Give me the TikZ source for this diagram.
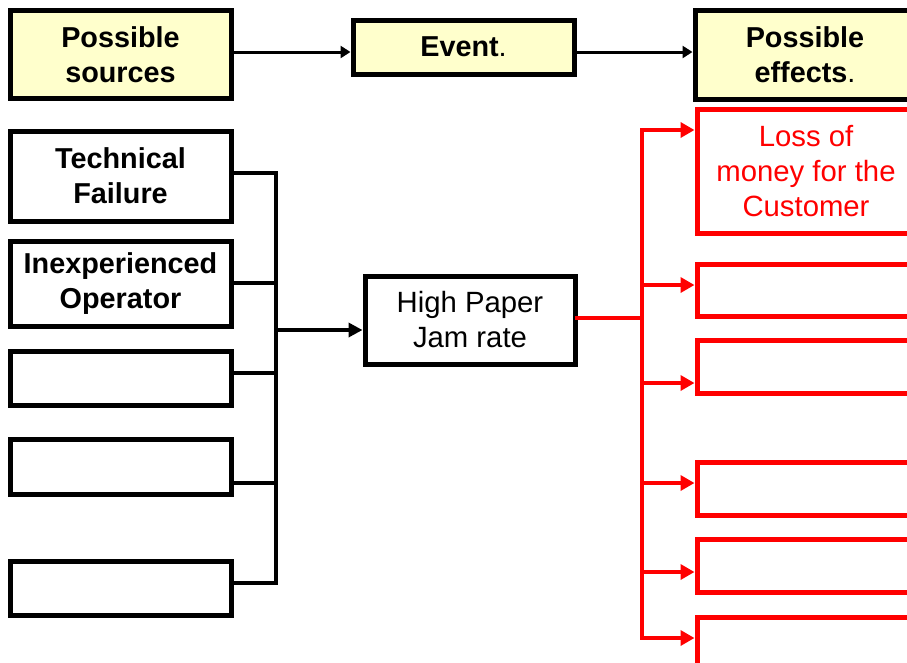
\documentclass[tikz,border=0pt]{standalone}
\usepackage{fontspec}
\setmainfont{Liberation Sans}
\usetikzlibrary{arrows.meta}
\definecolor{headfill}{RGB}{255,255,204}
\definecolor{effred}{RGB}{255,0,0}
\tikzset{
  box/.style={draw=black, line width=5pt, fill=white, rectangle, inner sep=0pt,
    align=center, font=\fontsize{29.3}{35}\selectfont},
  headbox/.style={box, fill=headfill, font=\fontsize{28.8}{35}\selectfont\bfseries},
  causebox/.style={box, font=\fontsize{28.8}{35}\selectfont\bfseries, minimum width=221pt},
  effbox/.style={box, draw=effred, line width=5pt, text=effred, minimum width=218pt},
  headarrow/.style={draw=black, line width=3pt, -{Triangle[length=10pt,width=12pt]}},
  bracket/.style={draw=black, line width=4.5pt, line join=miter, line cap=rect},
  redline/.style={draw=effred, line width=4.5pt, line cap=rect},
  redarrow/.style={draw=effred, line width=4.5pt, -{Triangle[length=14pt,width=15pt]}},
}
\begin{document}
\begin{tikzpicture}[x=1pt, y=-1pt]
\useasboundingbox (0,0) rectangle (907,662);

% header row
\node[headbox, minimum width=221pt, minimum height=88pt] (src) at (120.5,54.5) {Possible\\sources};
\node[headbox, minimum width=221pt, minimum height=54pt] (evt) at (463.5,47) {Event\mdseries.};
\node[headbox, minimum width=220pt, minimum height=89pt] (eff) at (805,54.5) {Possible\\effects\mdseries.};
\draw[headarrow] ([yshift=2.5pt]src.east) -- ([yshift=2.5pt]src.east -| evt.west);
\draw[headarrow] ([yshift=-5pt]evt.east) -- ([yshift=-5pt]evt.east -| eff.west);

% sources
\node[causebox, minimum height=90pt] (c1) at (120.5,176) {Technical\\Failure};
\node[causebox, minimum height=85pt] (c2) at (120.5,284) {Inexperienced\\Operator};
\node[causebox, minimum height=54pt] (c3) at (120.5,378) {};
\node[causebox, minimum height=55pt] (c4) at (120.5,466.5) {};
\node[causebox, minimum height=54pt] (c5) at (120.5,588) {};

% event
\node[box, minimum width=210pt, minimum height=88pt] (hp) at (470,320) {High Paper\\Jam rate};

% effects
\node[effbox, minimum height=124pt] (e1) at (806,171.5) {Loss of\\money for the\\Customer};
\node[effbox, minimum height=52pt] (e2) at (806,290) {};
\node[effbox, minimum height=53pt] (e3) at (806,366.5) {};
\node[effbox, minimum height=53pt] (e4) at (806,488.5) {};
\node[effbox, minimum height=53pt] (e5) at (806,565.5) {};
\node[effbox, minimum height=53pt] (e6) at (806,643.5) {};

% collecting bracket on the source side
\coordinate (bt) at (276,173);
\coordinate (bb) at (276,583);
\draw[bracket] ([yshift=3pt]c1.east) -- (bt) -- (bb) -- ([yshift=5pt]c5.east);
\draw[bracket] ([yshift=1pt]c2.east) -- ([yshift=1pt]c2.east -| bt);
\draw[bracket] ([yshift=5pt]c3.east) -- ([yshift=5pt]c3.east -| bt);
\draw[bracket] ([yshift=-16.5pt]c4.east) -- ([yshift=-16.5pt]c4.east -| bt);
\coordinate (bm) at (276,330);
\draw[bracket, line cap=butt, -{Triangle[length=14pt,width=14pt]}] (bm) -- (bm -| hp.west);

% distributing bracket on the effect side
\coordinate (rt) at (642,130);
\coordinate (rb) at (642,638);
\draw[redline] ([yshift=2pt]hp.east) -- ([yshift=2pt]hp.east -| rt);
\draw[redline] (rt) -- (rb);
\draw[redarrow] (rt) -- (rt -| e1.west);
\draw[redarrow] ([yshift=5pt]e2.west -| rt) -- ([yshift=5pt]e2.west);
\draw[redarrow] ([yshift=-16.5pt]e3.west -| rt) -- ([yshift=-16.5pt]e3.west);
\draw[redarrow] ([yshift=5.5pt]e4.west -| rt) -- ([yshift=5.5pt]e4.west);
\draw[redarrow] ([yshift=-6.5pt]e5.west -| rt) -- ([yshift=-6.5pt]e5.west);
\draw[redarrow] (rb) -- (rb -| e6.west);
\end{tikzpicture}
\end{document}
